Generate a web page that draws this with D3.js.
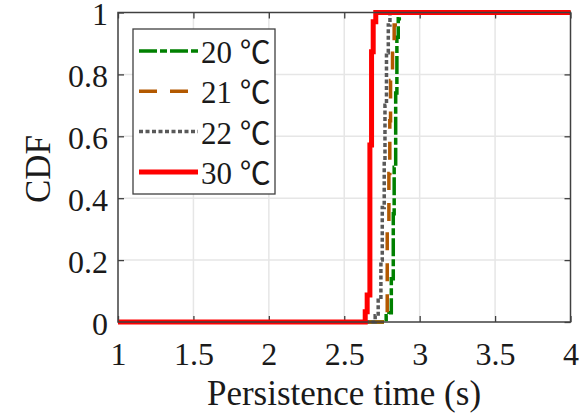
<!DOCTYPE html>
<html lang="en">
<head>
    <meta charset="UTF-8">
    <title>CDF of persistence time</title>
    <script src="https://cdn.jsdelivr.net/npm/d3@7"></script>
    <style>
        body { margin: 0; background: #fff; }
        svg text { font-family: "Liberation Serif", "Noto Sans CJK SC", serif; fill: #1a1a1a; }
        .grid line { stroke: #e6e6e6; stroke-width: 1.5; }
        .axis path { display: none; }
        .axis line { stroke: #404040; stroke-width: 1.3; }
    </style>
</head>
<body>
<script>
    // step points of each empirical CDF: at x, CDF jumps to y
    var labels = ["20 ℃", "21 ℃", "22 ℃", "30 ℃"];
    var x20 = [1, 2.778, 2.796, 2.812, 2.825, 2.831, 2.841, 2.849, 2.858, 2.865, 4];
    var y20 = [0, 0.02, 0.03, 0.14, 0.35, 0.50, 0.74, 0.92, 0.98, 1, 1];
    var x21 = [1, 2.752, 2.785, 2.796, 2.802, 2.807, 2.820, 2.831, 2.838, 4];
    var y21 = [0, 0.03, 0.30, 0.48, 0.65, 0.78, 0.88, 0.96, 1, 1];
    var x22 = [1, 2.705, 2.725, 2.743, 2.752, 2.765, 2.770, 2.780, 2.792, 2.803, 4];
    var y22 = [0, 0.02, 0.07, 0.20, 0.37, 0.52, 0.70, 0.87, 0.96, 1, 1];
    var x30 = [1, 2.639, 2.652, 2.670, 2.681, 2.692, 2.709, 4];
    var y30 = [0, 0.033, 0.087, 0.572, 0.873, 0.970, 1, 1];
    var xTicks = [1, 1.5, 2, 2.5, 3, 3.5, 4];
    var yTicks = [0, 0.2, 0.4, 0.6, 0.8, 1];

    var width = 585;
    var height = 417;
    var plot = {left: 118, right: 570.5, top: 12.5, bottom: 322};

    var series = [
        {name: labels[0], xs: x20, ys: y20, color: "#008000", dash: "18,3,7,3", w: 3.5},
        {name: labels[1], xs: x21, ys: y21, color: "#b35900", dash: "18,13", w: 3.5},
        {name: labels[2], xs: x22, ys: y22, color: "#595959", dash: "4,2.5", w: 3.5},
        {name: labels[3], xs: x30, ys: y30, color: "#ff0000", dash: null, w: 5}
    ];

    var x = d3.scaleLinear().domain([1, 4]).range([plot.left, plot.right]);
    var y = d3.scaleLinear().domain([0, 1]).range([plot.bottom, plot.top]);

    var svg = d3.select("body")
            .append("svg")
            .attr("width", width)
            .attr("height", height);

    // grid
    svg.append("g").attr("class", "grid")
            .selectAll("line")
            .data(xTicks.slice(1, -1))
            .enter().append("line")
            .attr("x1", function (d) { return x(d); })
            .attr("x2", function (d) { return x(d); })
            .attr("y1", plot.top)
            .attr("y2", plot.bottom);
    svg.append("g").attr("class", "grid")
            .selectAll("line")
            .data(yTicks.slice(1, -1))
            .enter().append("line")
            .attr("y1", function (d) { return y(d); })
            .attr("y2", function (d) { return y(d); })
            .attr("x1", plot.left)
            .attr("x2", plot.right);

    // inward ticks on all four sides
    var tick = 6;
    var xb = svg.append("g").attr("class", "axis")
            .attr("transform", "translate(0," + plot.bottom + ")")
            .call(d3.axisBottom(x).tickValues(xTicks).tickSize(-tick).tickFormat(d3.format("")));
    xb.selectAll("text")
            .attr("y", 43).attr("dy", 0)
            .attr("font-family", null)
            .style("font-size", "32px");
    svg.append("g").attr("class", "axis")
            .attr("transform", "translate(0," + plot.top + ")")
            .call(d3.axisTop(x).tickValues(xTicks).tickSize(-tick).tickFormat(""));

    var yl = svg.append("g").attr("class", "axis")
            .attr("transform", "translate(" + plot.left + ",0)")
            .call(d3.axisLeft(y).tickValues(yTicks).tickSize(-tick).tickFormat(d3.format("")));
    yl.selectAll("text")
            .attr("x", -10).attr("dy", 12.3)
            .style("font-size", "32px");
    svg.append("g").attr("class", "axis")
            .attr("transform", "translate(" + plot.right + ",0)")
            .call(d3.axisRight(y).tickValues(yTicks).tickSize(-tick).tickFormat(""));

    // curves
    var line = d3.line()
            .x(function (d) { return x(d[0]); })
            .y(function (d) { return y(d[1]); })
            .curve(d3.curveStepAfter);

    svg.append("g")
            .selectAll("path")
            .data(series)
            .enter().append("path")
            .attr("d", function (s) { return line(d3.zip(s.xs, s.ys)); })
            .attr("fill", "none")
            .attr("stroke", function (s) { return s.color; })
            .attr("stroke-width", function (s) { return s.w; })
            .attr("stroke-dasharray", function (s) { return s.dash; });

    // frame
    svg.append("rect")
            .attr("x", plot.left).attr("y", plot.top)
            .attr("width", plot.right - plot.left)
            .attr("height", plot.bottom - plot.top)
            .attr("fill", "none")
            .attr("stroke", "#404040")
            .attr("stroke-width", 1.5);

    // axis titles
    svg.append("text")
            .attr("x", 344)
            .attr("y", 405)
            .attr("text-anchor", "middle")
            .style("font-size", "35px")
            .text("Persistence time (s)");
    svg.append("text")
            .attr("transform", "translate(50,169) rotate(-90)")
            .attr("text-anchor", "middle")
            .style("font-size", "35px")
            .text("CDF");

    // legend
    var legend = svg.append("g");
    legend.append("rect")
            .attr("x", 133).attr("y", 29)
            .attr("width", 142).attr("height", 165)
            .attr("fill", "#fff")
            .attr("stroke", "#404040")
            .attr("stroke-width", 1.3);
    var item = legend.selectAll("g.item")
            .data(series)
            .enter().append("g")
            .attr("class", "item")
            .attr("transform", function (d, i) { return "translate(0," + (51 + i * 40.3) + ")"; });
    item.append("line")
            .attr("x1", 139).attr("x2", 198)
            .attr("stroke", function (s) { return s.color; })
            .attr("stroke-width", function (s) { return s.w; })
            .attr("stroke-dasharray", function (s) { return s.dash; });
    item.append("text")
            .attr("x", 201).attr("y", 12)
            .style("font-size", "31px")
            .text(function (s) { return s.name; });
</script>
</body>
</html>
